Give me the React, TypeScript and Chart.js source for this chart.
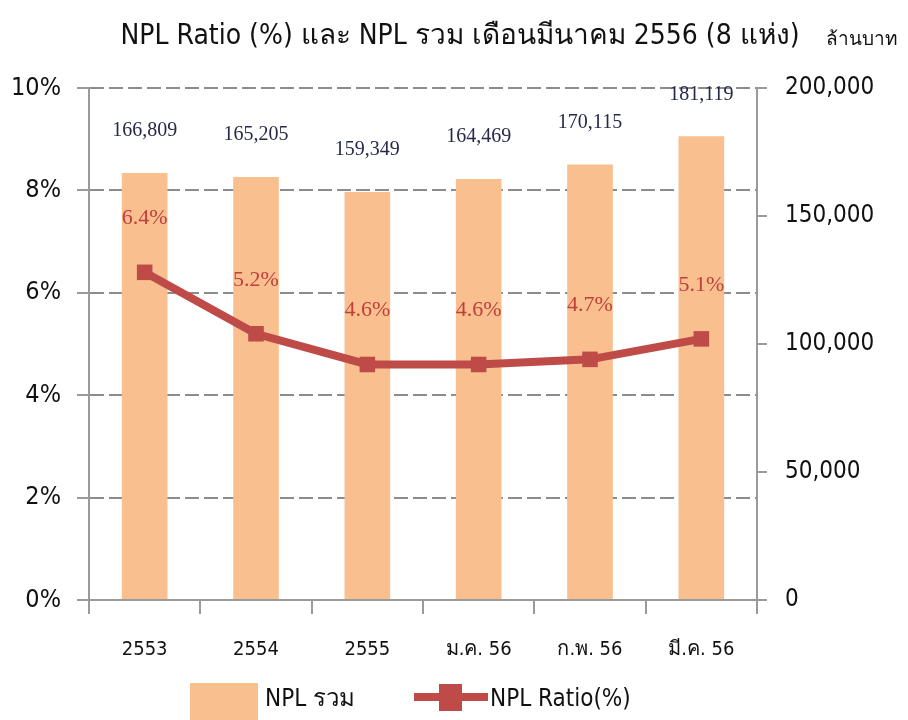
import React, { useEffect, useRef } from "react";
import { Chart, registerables } from "chart.js";
Chart.register(...registerables);

const categories = ["2553", "2554", "2555", "ม.ค. 56", "ก.พ. 56", "มี.ค. 56"];
const nplTotal = [166809, 165205, 159349, 164469, 170115, 181119];
const nplRatio = [6.4, 5.2, 4.6, 4.6, 4.7, 5.1];
const titleText = "NPL Ratio (%) และ NPL รวม เดือนมีนาคม 2556 (8 แห่ง)";
const unitText = "ล้านบาท";
const legendLabels = ["NPL รวม", "NPL Ratio(%)"];

const SANS = "'DejaVu Sans Condensed', 'DejaVu Sans', 'Noto Sans', sans-serif";
const SERIF = "'Liberation Serif', 'DejaVu Serif', serif";
const BAR_COLOR = "#F9BF8F";
const LINE_COLOR = "#BE4B48";
const AXIS_COLOR = "#9a9a9a";

const decorPlugin = {
  id: "decor",
  afterDatasetsDraw(chart: any) {
    const ctx = chart.ctx;
    ctx.save();
    const barMeta = chart.getDatasetMeta(0);
    ctx.font = `20px ${SERIF}`;
    ctx.fillStyle = "#262A48";
    ctx.textAlign = "center";
    ctx.textBaseline = "middle";
    barMeta.data.forEach((el: any, i: number) => {
      ctx.fillText(nplTotal[i].toLocaleString("en-US"), el.x, el.y - 42);
    });
    const lineMeta = chart.getDatasetMeta(1);
    ctx.font = `22px ${SERIF}`;
    ctx.fillStyle = "#C0403C";
    lineMeta.data.forEach((el: any, i: number) => {
      ctx.fillText(nplRatio[i].toFixed(1) + "%", el.x, el.y - 54);
    });
    ctx.restore();
  },
  afterDraw(chart: any) {
    const ctx = chart.ctx;
    ctx.save();
    ctx.fillStyle = "#111";
    ctx.textBaseline = "middle";
    ctx.textAlign = "center";
    ctx.font = `28px ${SANS}`;
    ctx.fillText(titleText, 460, 37);
    ctx.font = `19px ${SANS}`;
    ctx.textAlign = "left";
    ctx.fillText(unitText, 826, 40);
    ctx.fillStyle = BAR_COLOR;
    ctx.fillRect(190, 683, 68, 37);
    ctx.fillStyle = "#111";
    ctx.font = `24px ${SANS}`;
    ctx.fillText(legendLabels[0], 265, 700);
    ctx.strokeStyle = LINE_COLOR;
    ctx.lineWidth = 8;
    ctx.beginPath();
    ctx.moveTo(414, 697);
    ctx.lineTo(488, 697);
    ctx.stroke();
    ctx.fillStyle = LINE_COLOR;
    ctx.fillRect(439, 684, 23, 27);
    ctx.fillStyle = "#111";
    ctx.fillText(legendLabels[1], 490, 700);
    ctx.restore();
  },
};

export default function App() {
  const ref = useRef<HTMLCanvasElement>(null);
  useEffect(() => {
    if (!ref.current) return;
    const chart = new Chart(ref.current, {
      type: "bar",
      data: {
        labels: categories,
        datasets: [
          {
            type: "bar",
            label: legendLabels[0],
            data: nplTotal,
            backgroundColor: BAR_COLOR,
            yAxisID: "y1",
            barPercentage: 0.41,
            categoryPercentage: 1,
            order: 2,
          },
          {
            type: "line",
            label: legendLabels[1],
            data: nplRatio,
            borderColor: LINE_COLOR,
            backgroundColor: LINE_COLOR,
            borderWidth: 8,
            pointStyle: "rect",
            pointRadius: 11,
            pointBorderWidth: 0,
            tension: 0,
            yAxisID: "y",
            order: 1,
          } as any,
        ],
      },
      plugins: [decorPlugin],
      options: {
        responsive: false,
        animation: false,
        devicePixelRatio: 1,
        layout: { padding: { top: 88, left: 0, right: 0, bottom: 0 } },
        plugins: { legend: { display: false }, tooltip: { enabled: false }, title: { display: false } },
        scales: {
          x: {
            afterFit: (s: any) => { s.height = 120; },
            grid: { offset: true, drawOnChartArea: false, drawTicks: true, tickLength: 14, color: AXIS_COLOR, lineWidth: 2 },
            border: { color: AXIS_COLOR, width: 2 },
            ticks: { color: "#111", font: { family: SANS, size: 20 }, padding: 24 },
          },
          y: {
            position: "left",
            min: 0,
            max: 10,
            afterFit: (s: any) => { s.width = 89; },
            grid: { color: "#8c8c8c", lineWidth: 2, tickLength: 12, tickColor: AXIS_COLOR, tickBorderDash: [] },
            border: { color: AXIS_COLOR, width: 2, dash: [14, 5] },
            ticks: { stepSize: 2, color: "#111", font: { family: SANS, size: 25 }, padding: 16, callback: (v: any) => v + "%" },
          },
          y1: {
            position: "right",
            min: 0,
            max: 200000,
            afterFit: (s: any) => { s.width = 151; },
            grid: { drawOnChartArea: false, tickLength: 10, color: AXIS_COLOR, lineWidth: 2 },
            border: { color: AXIS_COLOR, width: 2 },
            ticks: { stepSize: 50000, color: "#111", font: { family: SANS, size: 24 }, padding: 18, callback: (v: any) => Number(v).toLocaleString("en-US") },
          },
        },
      },
    });
    return () => chart.destroy();
  }, []);
  return (
    <div style={{ position: "absolute", left: 0, top: 0, width: 908, height: 720, background: "#fff" }}>
      <canvas ref={ref} width={908} height={720} />
    </div>
  );
}
